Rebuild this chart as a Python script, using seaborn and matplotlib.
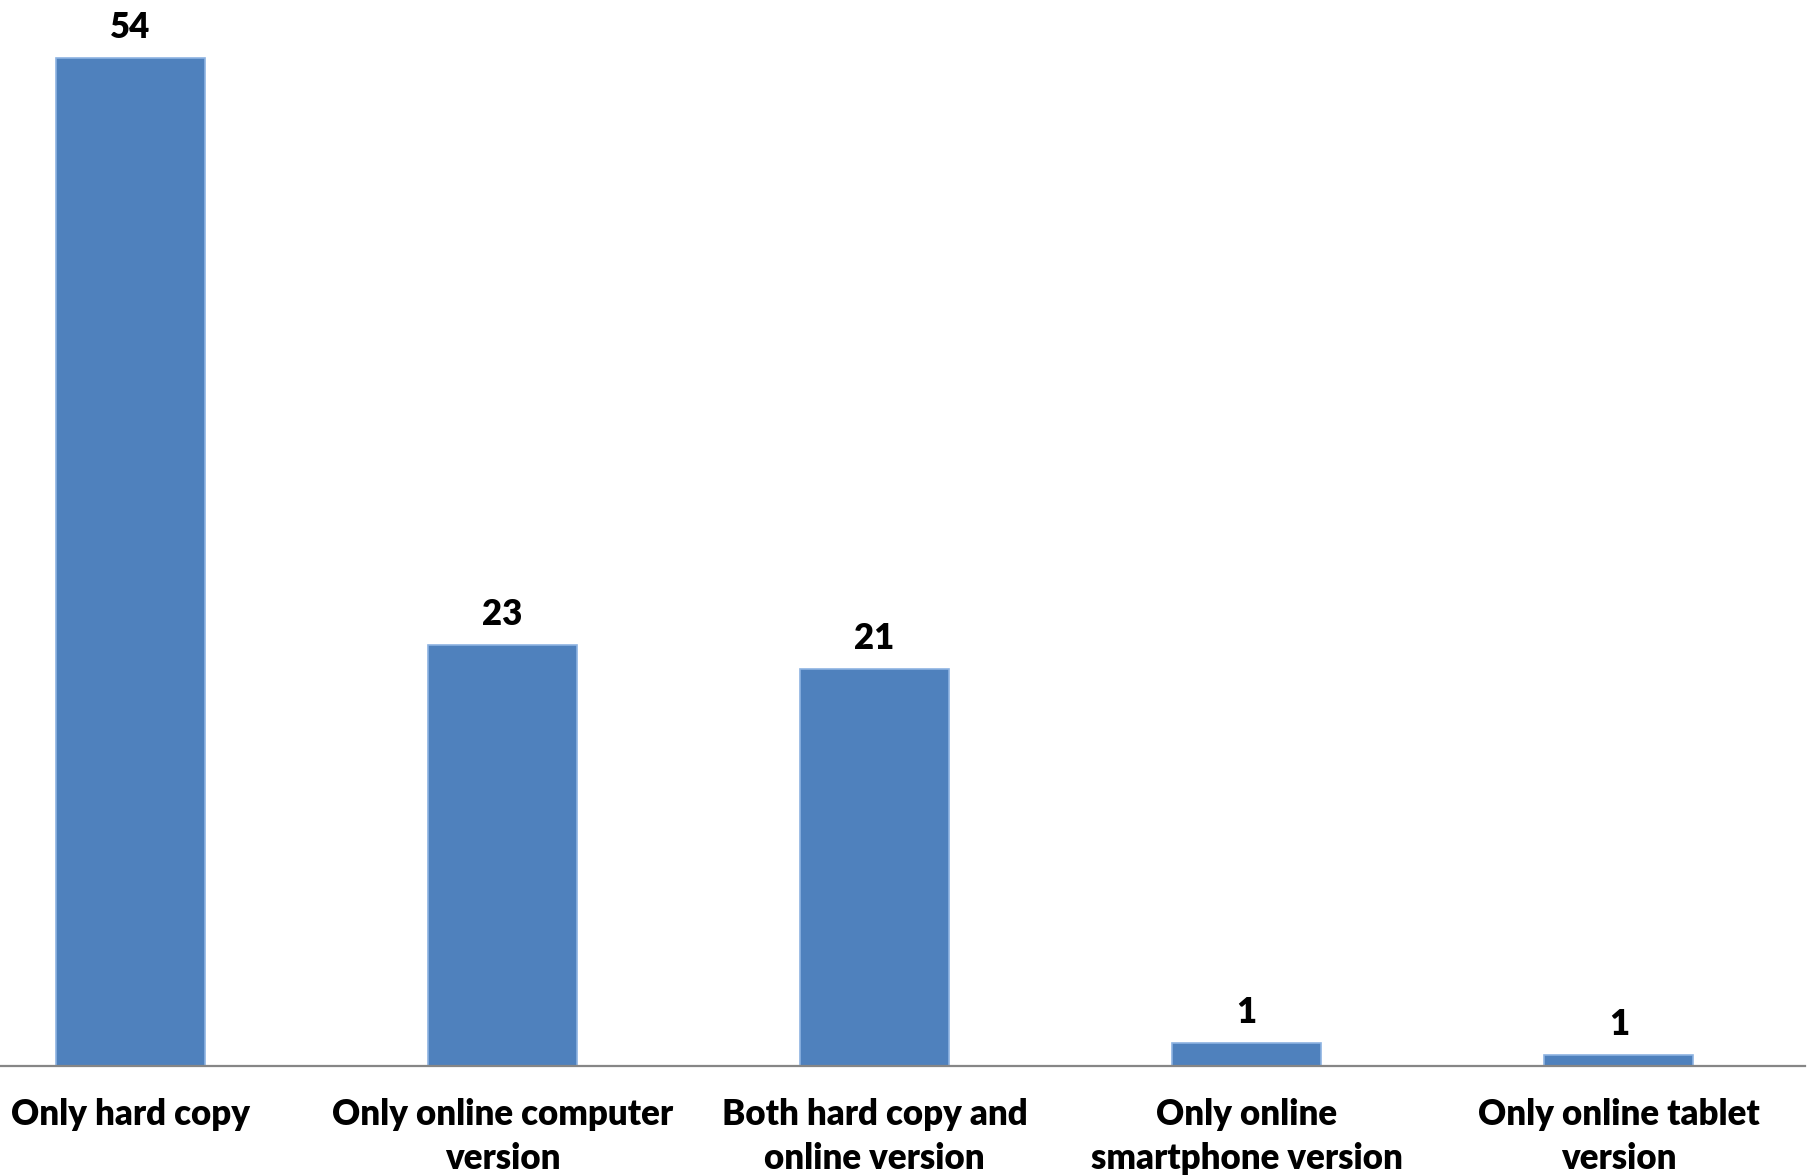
import matplotlib
matplotlib.use("Agg")
import matplotlib.pyplot as plt
import seaborn as sns
import pandas as pd

# Survey: preferred format of the publication (percent of respondents)
categories = [
    "Only hard copy",
    "Only online computer\nversion",
    "Both hard copy and\nonline version",
    "Only online\nsmartphone version",
    "Only online tablet\nversion",
]
percent = [54.1, 22.6, 21.3, 1.2, 0.6]

df = pd.DataFrame({"format": categories, "percent": percent})

sns.set_theme(style="white")
plt.rcParams["font.family"] = ["Lato", "DejaVu Sans"]

fig = plt.figure(figsize=(18.14, 11.75), dpi=100)
ax = fig.add_axes([0.0, 0.093, 0.995, 0.907])

sns.barplot(
    data=df, x="format", y="percent", ax=ax,
    color="#4F81BD", width=0.4, saturation=1,
    edgecolor="#8DB3E2", linewidth=1.2,
)

ax.set_xlim(-0.35, 4.5)
ax.set_ylim(0, 57.2)
ax.set_xlabel("")
ax.set_ylabel("")
ax.set_yticks([])

for side in ("top", "right", "left"):
    ax.spines[side].set_visible(False)
ax.spines["bottom"].set_color("#868686")
ax.spines["bottom"].set_linewidth(1.6)

ax.tick_params(axis="x", length=0, pad=23)
for lbl in ax.get_xticklabels():
    lbl.set_fontsize(25)
    lbl.set_fontweight("heavy")
    lbl.set_color("black")
    lbl.set_linespacing(1.42)

for i, v in enumerate(percent):
    ax.annotate(f"{v:.0f}", (i, v), xytext=(0, 10), textcoords="offset points",
                ha="center", va="bottom", fontsize=25, fontweight="heavy",
                color="black")

fig.savefig("out.png", dpi=100)
